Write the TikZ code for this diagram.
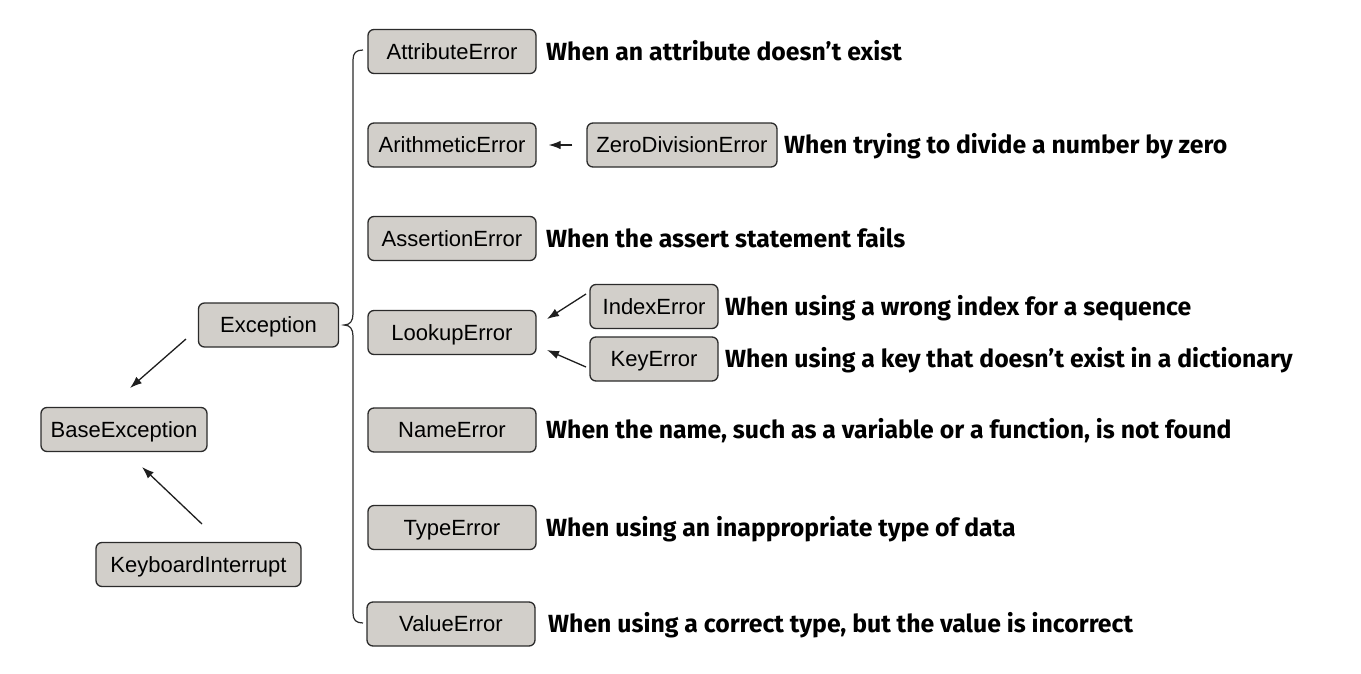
\documentclass[tikz,border=0pt]{standalone}
\usepackage{fontspec}
\setmainfont{Liberation Sans}
\newfontfamily\descfont{Fira Sans}
\usetikzlibrary{arrows.meta}
\definecolor{boxfill}{HTML}{D2CFCA}
\definecolor{boxline}{HTML}{2B2B2B}
\definecolor{arrowc}{HTML}{1E1E1E}
\begin{document}
\begin{tikzpicture}[x=1pt,y=-1pt,
  box/.style={draw=boxline, fill=boxfill, rounded corners=6pt, line width=1.3pt,
    minimum height=44pt, inner sep=0pt, text height=15.8pt, text depth=0pt,
    font=\fontsize{22}{26}\selectfont},
  col/.style={box, minimum width=168pt},
  desc/.style={anchor=west, inner sep=0pt, text height=17pt, text depth=0pt,
    font=\descfont\bfseries\fontsize{24.8}{29}\selectfont},
  arr/.style={-{Latex[length=12pt,width=8.5pt]}, line width=1.3pt, draw=arrowc}]
\useasboundingbox (0,0) rectangle (1361,673);

\node[box, minimum width=140pt] (exc) at (268.5,325) {Exception};
\node[box, minimum width=166pt] (base) at (124,429.5) {BaseException};
\node[box, minimum width=205pt] (kbd) at (198.5,564.5) {KeyboardInterrupt};

\node[col] (attr) at (452,51.5) {AttributeError};
\node[col] (arith) at (452,145) {ArithmeticError};
\node[col] (assert) at (452,238.5) {AssertionError};
\node[col] (lookup) at (452,332.5) {LookupError};
\node[col] (name) at (452,430) {NameError};
\node[col] (type) at (452,527.5) {TypeError};
\node[col] (value) at (451,624) {ValueError};

\node[box, minimum width=190pt] (zero) at (682,145) {ZeroDivisionError};
\node[box, minimum width=128pt] (index) at (654,306.5) {IndexError};
\node[box, minimum width=128pt] (key) at (654,359) {KeyError};

\node[desc] (dattr) at (546,51.5) {When an attribute doesn’t exist};
\node[desc] (dzero) at (784,145) {When trying to divide a number by zero};
\node[desc] (dassert) at (546,238.5) {When the assert statement fails};
\node[desc] (dindex) at (725,306.5) {When using a wrong index for a sequence};
\node[desc] (dkey) at (725,359) {When using a key that doesn’t exist in a dictionary};
\node[desc] (dname) at (546,430) {When the name, such as a variable or a function, is not found};
\node[desc] (dtype) at (546,527.5) {When using an inappropriate type of data};
\node[desc] (dvalue) at (548,624) {When using a correct type, but the value is incorrect};

% brace
\draw[line width=1.2pt, draw=boxline] (363,50) .. controls (356,50) and (353,53) .. (353,60)
  -- (353,314) .. controls (353,321) and (350,325) .. (344,325)
  .. controls (350,325) and (353,329) .. (353,336)
  -- (353,613) .. controls (353,620) and (356,623) .. (363,623);

% arrows
\coordinate (e1) at (186,339);
\coordinate (b1) at (130,388);
\coordinate (k1) at (202,524);
\coordinate (b2) at (142,467);
\coordinate (i1) at (586,294);
\coordinate (l1) at (547,319);
\coordinate (k2) at (586,367);
\coordinate (l2) at (547,350);
\draw[arr] (e1) -- (b1);
\draw[arr] (k1) -- (b2);
\draw[arr, shorten <=14pt, shorten >=12pt] (zero) -- (arith);
\draw[arr] (i1) -- (l1);
\draw[arr] (k2) -- (l2);
\end{tikzpicture}
\end{document}
